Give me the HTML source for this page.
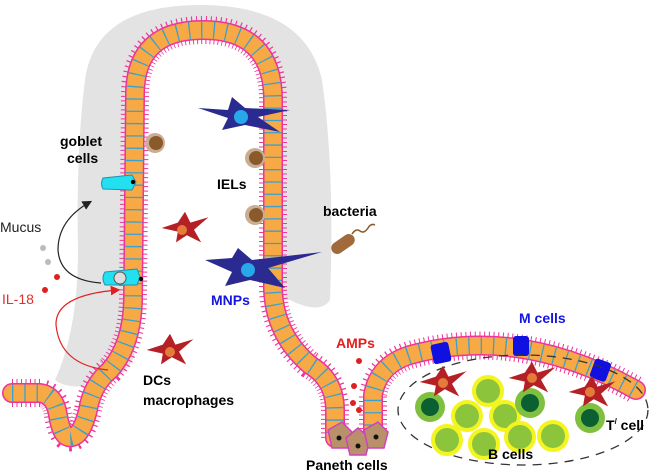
<!DOCTYPE html>
<html><head><meta charset="utf-8"><style>
html,body{margin:0;padding:0;background:#fff;}
svg{display:block;}
text{font-family:"Liberation Sans",Arial,sans-serif;font-size:14px;}
.b{font-weight:bold;}
</style></head><body>
<svg width="650" height="475" viewBox="0 0 650 475" xmlns="http://www.w3.org/2000/svg">
<defs>
<g id="star"><path d="M0,-18 L6,-6 L26,-12 L10,2 L18,16 L2,8 L-10,16 L-8,4 L-26,0 L-8,-6 Z"/></g>
<path id="ep" d="M12,393 L40,393 Q55,395 58,415 Q62,440 72,437 Q82,435 88,410 Q92,385 110,370 Q132,345 133,300 L135,95 Q135,30 203,30 Q273,30 273,100 L273,290 Q275,335 310,365 Q335,380 335,410 L335,438 M373,438 L373,395 Q378,365 410,355 Q520,325 636,390"/>
<marker id="ab" markerWidth="8" markerHeight="8" refX="6" refY="4" orient="auto"><path d="M0,0 L8,4 L0,8 Z" fill="#222"/></marker>
<marker id="ar" markerWidth="8" markerHeight="8" refX="6" refY="4" orient="auto"><path d="M0,0 L8,4 L0,8 Z" fill="#e02020"/></marker>
</defs>
<!-- mucus -->
<path d="M85,80 Q95,5 200,5 Q305,5 322,80 Q335,170 330,300 Q320,315 290,300 L150,300 Q140,370 110,382 Q70,392 55,380 Q78,330 78,250 Q76,150 85,80 Z" fill="#e3e3e3"/>
<path d="M135,380 L133,300 L135,95 Q135,30 203,30 Q273,30 273,100 L273,290 Q275,335 310,365 L300,420 L140,420 Z" fill="#fff"/>
<!-- epithelium -->
<g fill="none" stroke-linejoin="round">
<use href="#ep" stroke="#ee3399" stroke-width="28" stroke-dasharray="1 3.5"/>
<use href="#ep" stroke="#ee3399" stroke-width="20" stroke-linecap="round"/>
<use href="#ep" stroke="#f6a945" stroke-width="17" stroke-linecap="round"/>
<use href="#ep" stroke="#3aa0d0" stroke-width="17" stroke-dasharray="1.3 11"/>
</g>
<!-- paneth cells -->
<g fill="#b8906a" stroke="#d040c0" stroke-width="1.5">
<path d="M328,430 L342,422 L352,432 L348,448 L332,448 Z"/>
<path d="M346,438 L358,428 L370,438 L366,455 L350,455 Z"/>
<path d="M364,430 L378,422 L388,432 L384,448 L368,448 Z"/>
</g>
<g fill="#111"><circle cx="339" cy="438" r="2.5"/><circle cx="358" cy="446" r="2.5"/><circle cx="376" cy="437" r="2.5"/></g>
<!-- M cells -->
<g fill="#1010e0"><rect x="432" y="343" width="18" height="20" rx="3" transform="rotate(-12 441 353)"/><rect x="513" y="336" width="16" height="20" rx="3"/><rect x="592" y="360" width="17" height="20" rx="3" transform="rotate(20 600 370)"/></g>
<!-- dashed ellipse -->
<ellipse cx="523" cy="410" rx="125" ry="55" fill="none" stroke="#333" stroke-width="1.3" stroke-dasharray="9 7"/>
<!-- B/T cells -->
<g stroke="#f4f420" stroke-width="4" fill="#8cc43c">
<circle cx="488" cy="391" r="14"/><circle cx="467" cy="416" r="14"/><circle cx="505" cy="416" r="14"/><circle cx="447" cy="440" r="14"/><circle cx="484" cy="444" r="14"/><circle cx="520" cy="437" r="14"/><circle cx="553" cy="436" r="14"/>
</g>
<g fill="#80c040"><circle cx="430" cy="407" r="15"/><circle cx="530" cy="403" r="15"/><circle cx="590" cy="418" r="15"/></g>
<g fill="#0a6030"><circle cx="430" cy="407" r="9"/><circle cx="530" cy="403" r="9"/><circle cx="590" cy="418" r="9"/></g>
<!-- red DCs -->
<g fill="#b52025">
<use href="#star" transform="translate(185,228) scale(0.9)"/>
<use href="#star" transform="translate(170,350) scale(0.9)"/>
<use href="#star" transform="translate(443,382) scale(0.9)"/>
<use href="#star" transform="translate(532,378) scale(0.9)"/>
<use href="#star" transform="translate(592,392) scale(0.9)"/>
</g>
<g fill="#e57b3a"><circle cx="182" cy="230" r="5"/><circle cx="170" cy="352" r="5"/><circle cx="443" cy="383" r="5"/><circle cx="532" cy="378" r="5"/><circle cx="590" cy="392" r="5"/></g>
<!-- blue MNPs -->
<g fill="#2a2a90">
<path d="M198,108 L228,110 L232,97 L245,108 L290,110 L258,117 L280,132 L245,125 L222,130 L228,118 Z"/>
<path d="M205,260 L232,258 L238,248 L252,260 L322,252 L268,268 L285,288 L250,280 L225,286 L232,272 Z"/>
</g>
<g fill="#27a8e8"><circle cx="241" cy="117" r="7"/><circle cx="248" cy="270" r="7"/></g>
<!-- IELs -->
<g fill="#c9ae93"><circle cx="155" cy="143" r="10"/><circle cx="255" cy="158" r="10"/><circle cx="255" cy="215" r="10"/></g>
<g fill="#8a5a2b"><circle cx="156" cy="143" r="7"/><circle cx="256" cy="158" r="7"/><circle cx="256" cy="215" r="7"/></g>
<!-- bacteria -->
<rect x="330" y="238" width="26" height="12" rx="6" fill="#a06a3a" transform="rotate(-35 343 244)"/>
<path d="M352,234 q4,-6 8,-3 q4,3 8,-3 q3,-5 7,-3" fill="none" stroke="#8a5a2b" stroke-width="1.5"/>
<!-- goblet cells -->
<path d="M103,178 L132,175 L136,182 L132,190 L103,189 Q100,184 103,178 Z" fill="#22e0f0" stroke="#2090b0" stroke-width="1"/>
<circle cx="133" cy="182" r="2.2" fill="#000"/>
<path d="M105,272 L137,269 L140,277 L137,285 L105,285 Q101,278 105,272 Z" fill="#22e0f0" stroke="#2090b0" stroke-width="1"/>
<circle cx="120" cy="278" r="6" fill="#ddd" stroke="#555" stroke-width="1"/>
<circle cx="141" cy="279" r="2.2" fill="#000"/>
<!-- arrows -->
<path d="M101,283 Q60,280 58,250 Q58,220 90,202" fill="none" stroke="#222" stroke-width="1.2" marker-end="url(#ab)"/>
<path d="M108,370 Q60,365 56,325 Q55,295 118,290" fill="none" stroke="#e02020" stroke-width="1.2" marker-end="url(#ar)"/>
<!-- dots -->
<g fill="#bbb"><circle cx="43" cy="248" r="3"/><circle cx="48" cy="262" r="3"/></g>
<g fill="#e02020"><circle cx="57" cy="277" r="3"/><circle cx="45" cy="290" r="3"/>
<circle cx="359" cy="361" r="3"/><circle cx="354" cy="386" r="3"/><circle cx="353" cy="403" r="3"/><circle cx="359" cy="410" r="3"/></g>
<!-- labels -->
<text x="60" y="146" class="b">goblet</text>
<text x="67" y="163" class="b">cells</text>
<text x="217" y="189" class="b">IELs</text>
<text x="323" y="216" class="b">bacteria</text>
<text x="0" y="232" fill="#222">Mucus</text>
<text x="2" y="304" fill="#e03030">IL-18</text>
<text x="211" y="305" class="b" fill="#1515e0">MNPs</text>
<text x="336" y="348" class="b" fill="#e02020">AMPs</text>
<text x="519" y="323" class="b" fill="#1515e0">M cells</text>
<text x="143" y="385" class="b">DCs</text>
<text x="143" y="405" class="b">macrophages</text>
<text x="306" y="470" class="b">Paneth cells</text>
<text x="488" y="459" class="b">B cells</text>
<text x="606" y="430" class="b">T<tspan font-size="8" dy="-6">/</tspan><tspan dy="6"> cell</tspan></text>
</svg>
</body></html>
